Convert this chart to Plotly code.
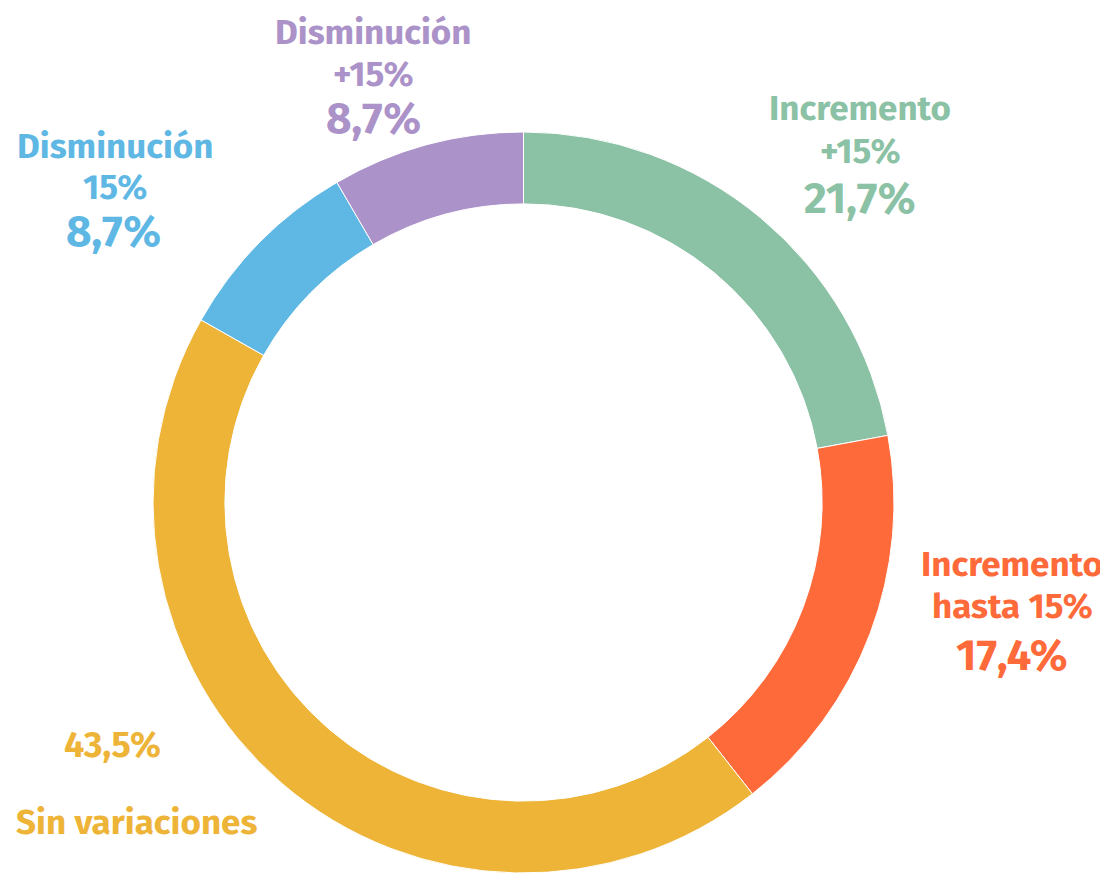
import plotly.graph_objects as go

W, H = 1100, 865   # page body has an 8px margin
OFF = 8

categories = ["Incremento +15%", "Incremento hasta 15%", "Sin variaciones",
              "Disminución 15%", "Disminución +15%"]
# arc shares as drawn in the picture (percent of the ring)
arc_shares = [22.1, 17.3, 43.8, 8.4, 8.4]
# printed labels
share_labels = ["21,7%", "17,4%", "43,5%", "8,7%", "8,7%"]
colors = ["#8BC1A5", "#FF6A3A", "#EDB437", "#5FB8E4", "#AB92C8"]

FONT = "Fira Sans, Lato, sans-serif"

# centre of ring ~(523.5, 503) px on screen, outer radius ~371 px
cx, cy, r = 523.5 - OFF, 503 - OFF, 371

fig = go.Figure(
    go.Pie(
        labels=categories,
        values=arc_shares,
        hole=0.806,
        sort=False,
        direction="clockwise",
        rotation=0,
        textinfo="none",
        marker={"colors": colors, "line": {"color": "#ffffff", "width": 1}},
        domain={"x": [(cx - r) / W, (cx + r) / W],
                "y": [max(0, (H - cy - r) / H), (H - cy + r) / H]},
        showlegend=False,
    )
)


def label(text, px, py, color, size):
    fig.add_annotation(
        text=f"<b>{text}</b>", x=(px - OFF) / W, y=1 - (py - OFF) / H,
        xref="paper", yref="paper", xanchor="center", yanchor="middle",
        showarrow=False, font={"family": FONT, "size": size, "color": color},
    )


# --- labels ---
label("Disminución", 373, 32, colors[4], 35)
label("+15%", 373, 74, colors[4], 35)
label(share_labels[4], 373, 118, colors[4], 44)

label("Disminución", 115, 146, colors[3], 35)
label("15%", 115, 187, colors[3], 35)
label(share_labels[3], 113, 231, colors[3], 44)

label("Incremento", 860, 108, colors[0], 35)
label("+15%", 860, 151, colors[0], 35)
label(share_labels[0], 860, 198, colors[0], 44)

label("Incremento", 1012, 564, colors[1], 35)
label("hasta 15%", 1012, 606, colors[1], 35)
label(share_labels[1], 1012, 655, colors[1], 44)

label(share_labels[2], 112, 745, colors[2], 36)
label("Sin variaciones", 136, 822, colors[2], 35)

fig.update_layout(
    width=W, height=H,
    margin={"l": 0, "r": 0, "t": 0, "b": 0},
    paper_bgcolor="#ffffff",
    plot_bgcolor="#ffffff",
)

fig.write_html("out.html")
